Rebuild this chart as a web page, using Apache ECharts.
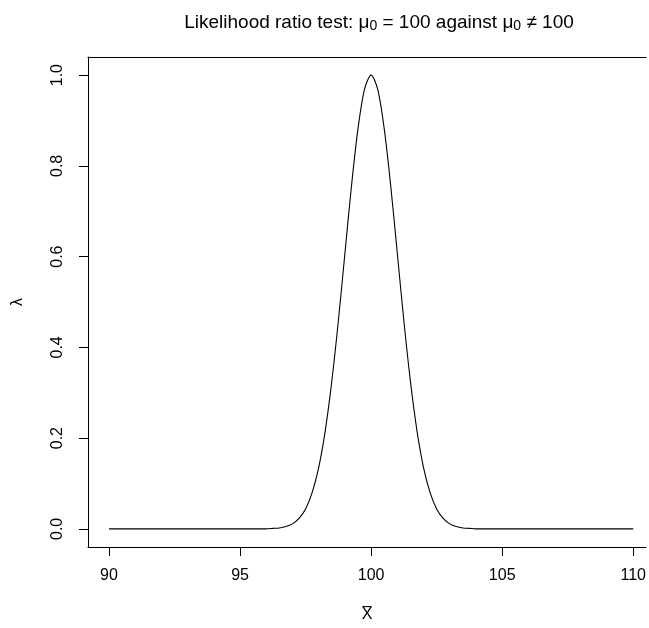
<!DOCTYPE html>
<html>
<head>
<meta charset="utf-8">
<script src="https://cdn.jsdelivr.net/npm/echarts@6/dist/echarts.min.js"></script>
<style>
  html, body { margin: 0; padding: 0; background: #fff; }
  #chart { width: 649px; height: 628px; }
</style>
</head>
<body>
<div id="chart"></div>
<script>
// sample points (x = sample mean, lambda = likelihood ratio)
var xValues = [90, 92, 94, 95, 96, 96.25, 96.5, 96.75, 97, 97.25, 97.5, 97.75, 98, 98.25, 98.5, 98.75,
    99, 99.25, 99.5, 99.75, 100, 100.25, 100.5, 100.75, 101, 101.25, 101.5, 101.75, 102, 102.25,
    102.5, 102.75, 103, 103.25, 103.5, 103.75, 104, 105, 106, 108, 110];
var lambdaValues = [0, 0, 0, 0, 0.000, 0.001, 0.002, 0.005, 0.011, 0.023, 0.044, 0.080, 0.135, 0.216, 0.325, 0.458,
    0.607, 0.755, 0.882, 0.969, 1.000, 0.969, 0.882, 0.755, 0.607, 0.458, 0.325, 0.216, 0.135, 0.080,
    0.044, 0.023, 0.011, 0.005, 0.002, 0.001, 0.000, 0, 0, 0, 0];
var xTicks = [90, 95, 100, 105, 110];
var yTicks = [0, 0.2, 0.4, 0.6, 0.8, 1.0];

var chart = echarts.init(document.getElementById('chart'));

var points = [];
for (var i = 0; i < xValues.length; i++) {
    points.push([xValues[i], lambdaValues[i]]);
}

var fontFamily = '"Liberation Sans", Arial, sans-serif';
// x range runs past the right edge of the picture, like the original plot
var xMin = 89.2, xMax = 110.49;

var option = {
    animation: false,
    backgroundColor: '#fff',
    title: {
        text: 'Likelihood ratio test: μ{sub|0} = 100 against μ{sub|0} ≠ 100',
        left: 374,
        top: 7,
        textAlign: 'center',
        textStyle: {
            fontFamily: fontFamily,
            fontSize: 19,
            fontWeight: 'normal',
            color: '#000',
            rich: {
                sub: { fontFamily: fontFamily, fontSize: 14, color: '#000', verticalAlign: 'bottom', padding: [7, 0, 0, 0] }
            }
        }
    },
    grid: {
        left: 88,
        top: 57,
        right: 0,
        height: 495,
        show: false
    },
    xAxis: [{
        type: 'value',
        min: xMin,
        max: xMax,
        name: 'X\u0305',
        nameLocation: 'middle',
        nameGap: 60,
        nameTextStyle: { fontFamily: fontFamily, fontSize: 16, color: '#000' },
        axisLine: { show: true, onZero: false, lineStyle: { color: '#000', width: 1 } },
        axisTick: { show: true, inside: false, length: 9, customValues: xTicks, lineStyle: { color: '#000' } },
        axisLabel: { customValues: xTicks, margin: 21, fontFamily: fontFamily, fontSize: 16, color: '#000' },
        splitLine: { show: false }
    }, {
        // top edge of the box
        type: 'value',
        position: 'top',
        min: xMin,
        max: xMax,
        axisLine: { show: true, onZero: false, lineStyle: { color: '#000', width: 1 } },
        axisTick: { show: false },
        axisLabel: { show: false },
        splitLine: { show: false }
    }],
    yAxis: {
        type: 'value',
        min: -0.04,
        max: 1.04,
        name: 'λ',
        nameLocation: 'middle',
        nameRotate: 90,
        nameGap: 62,
        nameTextStyle: { fontFamily: fontFamily, fontSize: 16, color: '#000' },
        axisLine: { show: true, onZero: false, lineStyle: { color: '#000', width: 1 } },
        axisTick: { show: true, inside: false, length: 9, customValues: yTicks, lineStyle: { color: '#000' } },
        axisLabel: {
            customValues: yTicks,
            rotate: 90,
            margin: 22,
            fontFamily: fontFamily,
            fontSize: 16,
            color: '#000',
            formatter: function (v) { return v.toFixed(1); }
        },
        splitLine: { show: false }
    },
    series: [{
        type: 'line',
        xAxisIndex: 0,
        data: points,
        smooth: 0.3,
        showSymbol: false,
        lineStyle: { color: '#000', width: 1.1 },
        clip: true
    }]
};

chart.setOption(option);
</script>
</body>
</html>
